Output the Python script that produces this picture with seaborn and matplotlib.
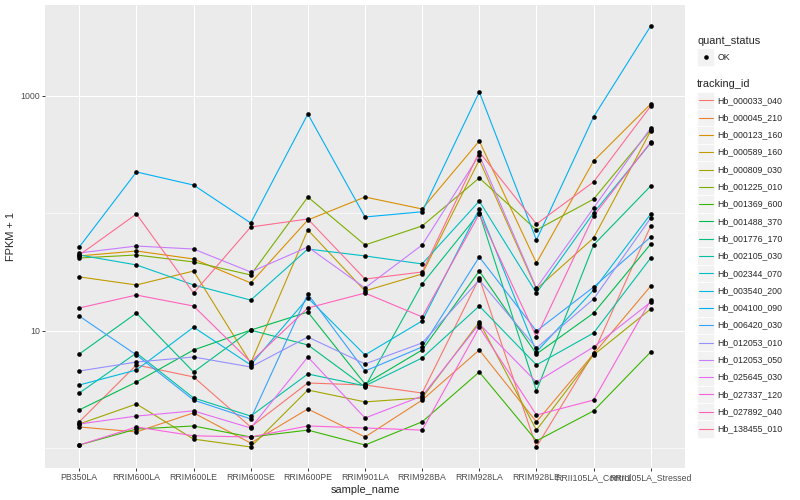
import numpy as np
import pandas as pd
import matplotlib
matplotlib.use('Agg')
import matplotlib.pyplot as plt
import seaborn as sns
from matplotlib.patches import Rectangle
from matplotlib.ticker import FixedLocator, NullFormatter

# samples on the x axis
samples = ['PB350LA', 'RRIM600LA', 'RRIM600LE', 'RRIM600SE', 'RRIM600PE', 'RRIM901LA',
           'RRIM928BA', 'RRIM928LA', 'RRIM928LE', 'RRII105LA_Control', 'RRII105LA_Stressed']

# FPKM + 1 per gene
hb_000033_040 = [1.67, 5.10, 4.03, 1.51, 3.58, 3.44, 2.94, 28.1, 1.02, 6.45, 78.0]
hb_000045_210 = [1.51, 1.37, 1.99, 1.10, 2.15, 1.24, 2.56, 6.84, 1.67, 6.32, 24.0]
hb_000123_160 = [43.3, 47.7, 40.8, 25.5, 87.7, 137.6, 108.8, 413, 37.7, 279, 854]
hb_000589_160 = [28.7, 24.5, 32.2, 5.30, 72.1, 21.8, 30.4, 285, 22.6, 61.6, 503]
hb_000809_030 = [1.60, 2.37, 1.19, 1.02, 3.12, 2.47, 2.67, 11.85, 1.42, 6.20, 15.3]
hb_001225_010 = [41.6, 44.1, 38.5, 29.8, 137.6, 53.7, 78.0, 200, 72.1, 132, 513]
hb_001369_600 = [1.06, 1.45, 1.54, 1.24, 1.42, 1.06, 1.67, 4.44, 1.15, 2.07, 6.58]
hb_001488_370 = [2.11, 3.65, 6.84, 10.1, 14.4, 3.51, 6.84, 32.2, 6.32, 14.1, 54.7]
hb_001776_170 = [6.32, 14.1, 4.44, 10.1, 7.55, 3.31, 25.0, 100.6, 3.06, 53.7, 171]
hb_002105_030 = [2.94, 6.45, 2.67, 1.87, 4.27, 3.38, 5.85, 16.2, 5.10, 9.55, 41.6]
hb_002344_070 = [44.1, 36.3, 24.5, 18.2, 49.6, 43.3, 37.0, 127, 20.9, 100.6, 397]
hb_003540_200 = [3.44, 4.62, 10.7, 5.10, 19.0, 6.20, 12.1, 108.8, 6.58, 22.2, 98.6]
hb_004100_090 = [51.6, 225, 174, 82.7, 702, 93.0, 103, 1081, 59.2, 662, 3946]
hb_006420_030 = [13.3, 6.20, 2.56, 1.77, 20.5, 4.53, 7.25, 42.4, 9.93, 23.5, 62.8]
hb_012053_010 = [4.53, 5.40, 5.96, 4.90, 8.83, 5.20, 7.85, 27.0, 7.11, 18.6, 91.2]
hb_012053_050 = [45.9, 52.6, 49.6, 31.6, 51.6, 23.1, 53.7, 314, 23.1, 111, 533]
hb_025645_030 = [1.60, 1.87, 2.07, 1.48, 5.96, 1.80, 2.77, 11.4, 3.65, 7.25, 17.5]
hb_027337_120 = [1.06, 1.51, 1.27, 1.24, 1.54, 1.48, 1.42, 10.7, 1.91, 2.56, 18.2]
hb_027892_040 = [15.6, 20.1, 16.2, 5.40, 15.6, 20.9, 13.1, 98.6, 8.83, 94.8, 405]
hb_138455_010 = [44.1, 98.6, 20.9, 76.4, 89.4, 27.5, 31.6, 333, 81.0, 185, 821]

tracking_ids = ['Hb_000033_040', 'Hb_000045_210', 'Hb_000123_160', 'Hb_000589_160',
                'Hb_000809_030', 'Hb_001225_010', 'Hb_001369_600', 'Hb_001488_370',
                'Hb_001776_170', 'Hb_002105_030', 'Hb_002344_070', 'Hb_003540_200',
                'Hb_004100_090', 'Hb_006420_030', 'Hb_012053_010', 'Hb_012053_050',
                'Hb_025645_030', 'Hb_027337_120', 'Hb_027892_040', 'Hb_138455_010']
gene_values = [hb_000033_040, hb_000045_210, hb_000123_160, hb_000589_160,
               hb_000809_030, hb_001225_010, hb_001369_600, hb_001488_370,
               hb_001776_170, hb_002105_030, hb_002344_070, hb_003540_200,
               hb_004100_090, hb_006420_030, hb_012053_010, hb_012053_050,
               hb_025645_030, hb_027337_120, hb_027892_040, hb_138455_010]

# ggplot default hue palette for 20 levels
colors = ['#F8766D', '#EA8331', '#D89000', '#C09B00', '#A3A500', '#7CAE00', '#39B600',
          '#00BB4E', '#00BF7D', '#00C1A3', '#00BFC4', '#00BAE0', '#00B0F6', '#35A2FF',
          '#9590FF', '#C77CFF', '#E76BF3', '#FA62DB', '#FF62BC', '#FF6C91']

rows = []
for tid, vals in zip(tracking_ids, gene_values):
    for s, v in zip(samples, vals):
        rows.append({'tracking_id': tid, 'sample_name': s, 'fpkm_plus1': v, 'quant_status': 'OK'})
df = pd.DataFrame(rows)

sns.set_style('darkgrid', {'axes.facecolor': '#EBEBEB', 'grid.color': 'white'})
plt.rcParams['font.family'] = ['Liberation Sans', 'DejaVu Sans']

fig = plt.figure(figsize=(8, 5), dpi=100)
ax = fig.add_axes([45 / 800, 1 - 468 / 500, 640 / 800, 463 / 500])

sns.lineplot(data=df, x='sample_name', y='fpkm_plus1', hue='tracking_id', hue_order=tracking_ids,
             palette=colors, sort=False, estimator=None, linewidth=0.8, legend=False, ax=ax)
sns.scatterplot(data=df, x='sample_name', y='fpkm_plus1', color='black', s=11, linewidth=0,
                legend=False, ax=ax, zorder=3)

ax.set_yscale('log')
ax.set_ylim(0.675, 5957)
ax.set_xlim(-0.6, len(samples) - 0.4)
ax.yaxis.set_major_locator(FixedLocator([10, 1000]))
ax.set_yticklabels(['10', '1000'])
ax.yaxis.set_minor_locator(FixedLocator([1, 100]))
ax.yaxis.set_minor_formatter(NullFormatter())
ax.set_xticks(range(len(samples)))
ax.set_xticklabels(samples)
ax.grid(True, which='major', color='white', linewidth=0.75)
ax.grid(True, which='minor', axis='y', color='white', linewidth=0.45)
for sp in ax.spines.values():
    sp.set_visible(False)
ax.tick_params(axis='both', which='major', length=2.0, width=0.7, color='#333333',
               labelsize=6.3, labelcolor='#4D4D4D', pad=1.6, bottom=True, left=True)
ax.tick_params(axis='y', which='minor', length=0)
ax.set_xlabel('sample_name', fontsize=7.9, labelpad=2)
ax.set_ylabel('FPKM + 1', fontsize=7.9, labelpad=3)

# legend drawn in figure pixel space, ggplot style
lg = fig.add_axes([0, 0, 1, 1], facecolor='none')
lg.set_xlim(0, 800)
lg.set_ylim(500, 0)
lg.axis('off')
kx, kw = 697, 17.3
lg.text(kx, 41, 'quant_status', fontsize=7.9, va='center', ha='left')
lg.add_patch(Rectangle((kx, 57 - kw / 2), kw, kw, facecolor='#F2F2F2', edgecolor='white', linewidth=0.5))
lg.scatter([kx + kw / 2], [57], s=11, color='black', linewidth=0)
lg.text(kx + kw + 3, 57, 'OK', fontsize=6.3, va='center', ha='left')
lg.text(kx, 84, 'tracking_id', fontsize=7.9, va='center', ha='left')
for i, (tid, c) in enumerate(zip(tracking_ids, colors)):
    yc = 100.3 + i * kw
    lg.add_patch(Rectangle((kx, yc - kw / 2), kw, kw, facecolor='#F2F2F2', edgecolor='white', linewidth=0.5))
    lg.plot([kx + 1.7, kx + kw - 1.7], [yc, yc], color=c, linewidth=0.8)
    lg.text(kx + kw + 3, yc, tid, fontsize=6.3, va='center', ha='left')

fig.savefig('out.png', dpi=100)
